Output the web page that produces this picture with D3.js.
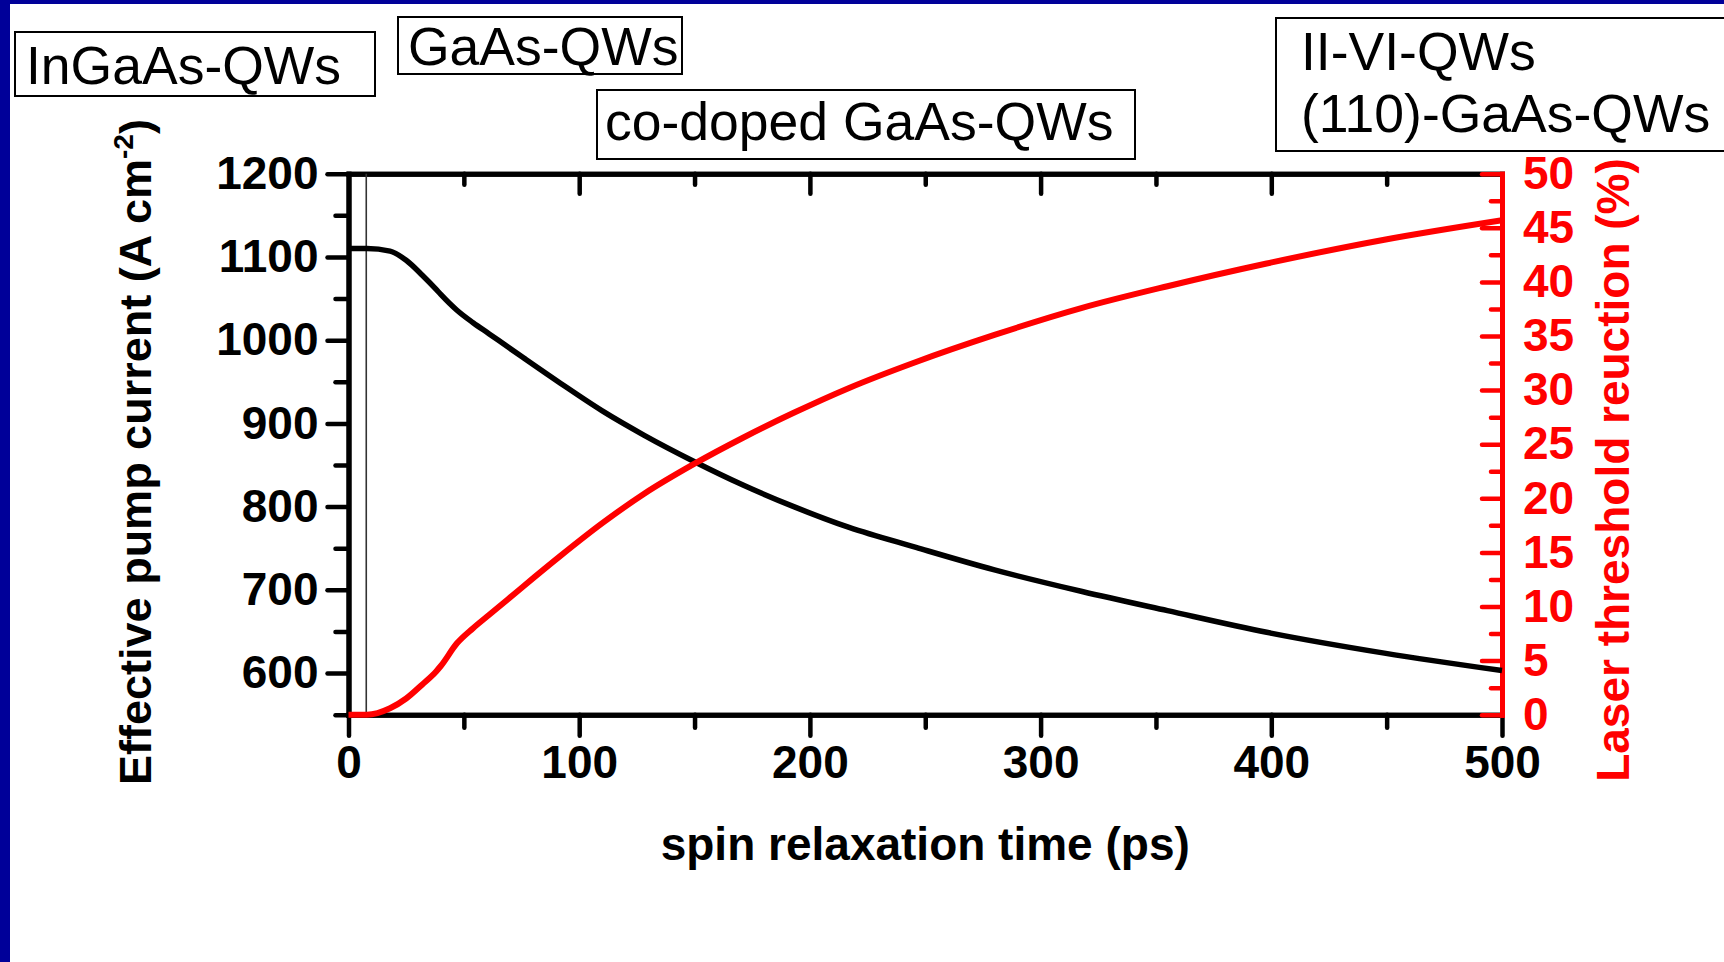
<!DOCTYPE html>
<html>
<head>
<meta charset="utf-8">
<script src="https://cdn.jsdelivr.net/npm/d3@7"></script>
<style>
  html, body { margin: 0; padding: 0; background: #ffffff; }
  svg { display: block; }
  text { font-family: "Liberation Sans", Arial, sans-serif; }
</style>
</head>
<body>
<script>
// Spin relaxation time (ps) sampled along both curves
const spinTime = [0, 8, 18, 25, 32, 38, 40, 47, 54, 61, 69, 76, 92, 110, 128, 150, 171, 193, 217, 246, 280, 318, 355, 398, 449, 500];
// Effective pump current (A cm^-2), left axis
const pumpCurrent = [1110, 1110, 1107, 1096, 1078, 1061, 1055, 1036, 1021, 1007.5, 992, 978.5, 948, 915, 886, 854, 826, 800, 775, 751, 724, 698, 675, 649, 624, 603];
// Laser threshold reduction (%), right axis
const thresholdReduction = [0, 0, 0.6, 1.5, 2.8, 4.0, 4.5, 6.6, 8.0, 9.24, 10.65, 11.9, 14.7, 17.7, 20.4, 23.2, 25.6, 27.9, 30.2, 32.6, 35.1, 37.6, 39.6, 41.7, 43.9, 45.7];
// Thin vertical marker line (ps)
const markerTime = [7.7];

// Axis ticks
const xMajorTicks = [0, 100, 200, 300, 400, 500];
const xMinorTicks = [50, 150, 250, 350, 450];
const leftMajorTicks = [600, 700, 800, 900, 1000, 1100, 1200];
const leftMinorTicks = [550, 650, 750, 850, 950, 1050, 1150];
const rightMajorTicks = [0, 5, 10, 15, 20, 25, 30, 35, 40, 45, 50];
const rightMinorTicks = [2.5, 7.5, 12.5, 17.5, 22.5, 27.5, 32.5, 37.5, 42.5, 47.5];

// Material-system labels above the plot
const materialBoxes = [
  { lines: ["InGaAs-QWs"], box: [15, 32, 375, 96], textX: 26, baselines: [84] },
  { lines: ["GaAs-QWs"], box: [398, 17, 682, 74], textX: 408, baselines: [65] },
  { lines: ["co-doped GaAs-QWs"], box: [597, 90, 1135, 159], textX: 605, baselines: [140] },
  { lines: ["II-VI-QWs", "(110)-GaAs-QWs"], box: [1276, 18, 1740, 151], textX: 1301, baselines: [70, 132] }
];

const W = 1724, H = 962;
const plot = { left: 348.5, right: 1502, top: 173.7, bottom: 714.7 };
const red = "#ff0000";

const svg = d3.select("body").append("svg").attr("width", W).attr("height", H);
svg.append("rect").attr("width", W).attr("height", H).attr("fill", "#ffffff");

// dark blue slide frame on the left and top edges
svg.append("rect").attr("x", 0).attr("y", 0).attr("width", W).attr("height", 4).attr("fill", "#000099");
svg.append("rect").attr("x", 0).attr("y", 0).attr("width", 10).attr("height", H).attr("fill", "#000099");

const x = d3.scaleLinear().domain([0, 500]).range([plot.left, plot.right]);
const yL = d3.scaleLinear().domain([550, 1200]).range([plot.bottom, plot.top]);
const yR = d3.scaleLinear().domain([0, 50]).range([plot.bottom, plot.top]);

function styleAxis(g, color, fontSize) {
  g.selectAll("path.domain").attr("stroke", color).attr("stroke-width", 5).attr("stroke-linecap", "square");
  g.selectAll(".tick line").attr("stroke", color).attr("stroke-width", 4.5).attr("stroke-linecap", "round");
  g.selectAll(".tick text").attr("fill", color).attr("font-size", fontSize).attr("font-weight", "bold")
    .attr("font-family", "'Liberation Sans', Arial, sans-serif");
}

// bottom axis
const gBottomMinor = svg.append("g").attr("transform", `translate(0,${plot.bottom})`)
  .call(d3.axisBottom(x).tickValues(xMinorTicks).tickSize(13).tickSizeOuter(0).tickFormat(""));
styleAxis(gBottomMinor, "#000", 46);
const gBottom = svg.append("g").attr("transform", `translate(0,${plot.bottom})`)
  .call(d3.axisBottom(x).tickValues(xMajorTicks).tickSize(21).tickSizeOuter(0).tickPadding(10).tickFormat(d3.format("d")));
styleAxis(gBottom, "#000", 46);

// top axis, ticks pointing inward
const gTopMinor = svg.append("g").attr("transform", `translate(0,${plot.top})`)
  .call(d3.axisTop(x).tickValues(xMinorTicks).tickSize(-11).tickSizeOuter(0).tickFormat(""));
styleAxis(gTopMinor, "#000", 46);
const gTop = svg.append("g").attr("transform", `translate(0,${plot.top})`)
  .call(d3.axisTop(x).tickValues(xMajorTicks.slice(1, -1)).tickSize(-20).tickSizeOuter(0).tickFormat(""));
styleAxis(gTop, "#000", 46);

// left axis
const gLeftMinor = svg.append("g").attr("transform", `translate(${plot.left},0)`)
  .call(d3.axisLeft(yL).tickValues(leftMinorTicks).tickSize(13).tickSizeOuter(0).tickFormat(""));
styleAxis(gLeftMinor, "#000", 46);
const gLeft = svg.append("g").attr("transform", `translate(${plot.left},0)`)
  .call(d3.axisLeft(yL).tickValues(leftMajorTicks).tickSize(21).tickSizeOuter(0).tickPadding(9).tickFormat(d3.format("d")));
styleAxis(gLeft, "#000", 46);

// right axis (red), ticks pointing inward
const gRightMinor = svg.append("g").attr("transform", `translate(${plot.right},0)`)
  .call(d3.axisRight(yR).tickValues(rightMinorTicks).tickSize(-11).tickSizeOuter(0).tickFormat(""));
styleAxis(gRightMinor, red, 46);
const gRight = svg.append("g").attr("transform", `translate(${plot.right},0)`)
  .call(d3.axisRight(yR).tickValues(rightMajorTicks).tickSize(-20).tickSizeOuter(0).tickPadding(21).tickFormat(d3.format("d")));
styleAxis(gRight, red, 46);

// thin vertical marker
svg.selectAll("line.marker").data(markerTime).join("line").attr("class", "marker")
  .attr("x1", d => x(d)).attr("x2", d => x(d))
  .attr("y1", plot.top).attr("y2", plot.bottom)
  .attr("stroke", "#333").attr("stroke-width", 1.6);

// curves
const series = spinTime.map((t, i) => ({ t, j: pumpCurrent[i], r: thresholdReduction[i] }));

svg.append("path").datum(series)
  .attr("fill", "none").attr("stroke", "#000").attr("stroke-width", 5.5)
  .attr("d", d3.line().x(d => x(d.t)).y(d => yL(d.j)).curve(d3.curveMonotoneX));

svg.append("path").datum(series)
  .attr("fill", "none").attr("stroke", red).attr("stroke-width", 6)
  .attr("d", d3.line().x(d => x(d.t)).y(d => yR(d.r)).curve(d3.curveMonotoneX));

// axis titles
svg.append("text")
  .attr("x", (plot.left + plot.right) / 2).attr("y", 860)
  .attr("text-anchor", "middle").attr("font-size", 46).attr("font-weight", "bold").attr("fill", "#000")
  .text("spin relaxation time (ps)");

const leftTitle = svg.append("text")
  .attr("transform", "translate(151,452) rotate(-90)")
  .attr("text-anchor", "middle").attr("font-size", 45).attr("font-weight", "bold").attr("fill", "#000");
leftTitle.append("tspan").text("Effective pump current (A cm");
leftTitle.append("tspan").attr("font-size", 28).attr("dy", -18).text("-2");
leftTitle.append("tspan").attr("dy", 18).text(")");

svg.append("text")
  .attr("transform", "translate(1629,470) rotate(-90)")
  .attr("text-anchor", "middle").attr("font-size", 46).attr("font-weight", "bold").attr("fill", red)
  .text("Laser threshold reuction (%)");

// material labels in boxes
const boxes = svg.selectAll("g.material").data(materialBoxes).join("g").attr("class", "material");
boxes.append("rect")
  .attr("x", d => d.box[0]).attr("y", d => d.box[1])
  .attr("width", d => d.box[2] - d.box[0]).attr("height", d => d.box[3] - d.box[1])
  .attr("fill", "#fff").attr("stroke", "#000").attr("stroke-width", 2);
boxes.each(function (d) {
  const g = d3.select(this);
  d.lines.forEach((line, i) => {
    g.append("text").attr("x", d.textX).attr("y", d.baselines[i])
      .attr("font-size", 53.5).attr("fill", "#000").text(line);
  });
});
</script>
</body>
</html>
